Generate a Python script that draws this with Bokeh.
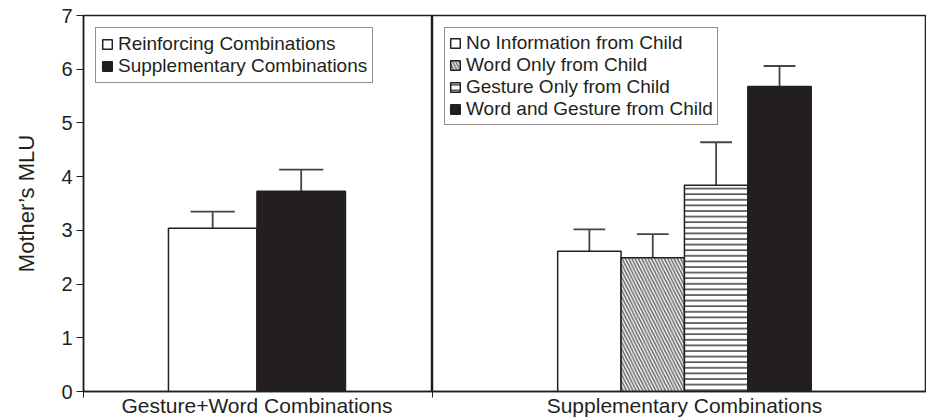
from bokeh.plotting import figure
from bokeh.layouts import row
from bokeh.models import ColumnDataSource, Range1d, FixedTicker, Legend, LegendItem
from bokeh.embed import file_html
from bokeh.resources import INLINE

# ---------------- data ----------------
y_label = "Mother\u2019s MLU"
y_ticks = [0, 1, 2, 3, 4, 5, 6, 7]

left_group = "Gesture+Word Combinations"
left_labels = ["Reinforcing Combinations", "Supplementary Combinations"]
left_means = [3.04, 3.73]
left_errors = [0.31, 0.40]

right_group = "Supplementary Combinations"
right_labels = ["No Information from Child", "Word Only from Child",
                "Gesture Only from Child", "Word and Gesture from Child"]
right_means = [2.61, 2.49, 3.84, 5.68]
right_errors = [0.41, 0.44, 0.80, 0.38]

# ---------------- style ----------------
INK = "#231f20"
FONT = "Liberation Sans"
left_fill = ["white", INK]
left_hatch = [" ", " "]
right_fill = ["white", "white", "white", INK]
right_hatch = [" ", "left_diagonal_line", "horizontal_line", " "]
right_hatch_color = [INK, "#6a6a6a", INK, INK]
right_hatch_weight = [1, 1.6, 1.3, 1]
right_hatch_scale = [6, 6.5, 5.6, 6]

y_range = Range1d(0, 7)


def make_panel(group, labels, means, errors, fills, hatches, hcolors, hweights,
               hscales, center, bar_w, frame_w, with_y, pad, spacing):
    n = len(means)
    xs = [center + (i - (n - 1) / 2) * bar_w for i in range(n)]
    tops = [m + e for m, e in zip(means, errors)]
    src = ColumnDataSource(dict(x=xs, top=means, label=labels, fill=fills,
                                hatch=hatches, hcolor=hcolors, hweight=hweights,
                                hscale=hscales, etop=tops,
                                cl=[x - bar_w / 4 for x in xs],
                                cr=[x + bar_w / 4 for x in xs]))
    p = figure(frame_width=frame_w, frame_height=376, x_range=Range1d(0, 1),
               y_range=y_range, output_backend="svg", toolbar_location=None,
               min_border_top=15, min_border_right=0, min_border_bottom=0,
               min_border_left=83 if with_y else 0,
               y_axis_location="left" if with_y else None)
    p.grid.visible = False
    p.outline_line_color = INK
    p.outline_line_width = 1.5
    p.background_fill_color = "white"
    p.border_fill_color = "white"

    # error bars (upper only)
    p.segment(x0="x", y0="top", x1="x", y1="etop", source=src,
              line_color="#444444", line_width=1.8)
    p.segment(x0="cl", y0="etop", x1="cr", y1="etop", source=src,
              line_color="#444444", line_width=1.8)

    r = p.vbar(x="x", top="top", bottom=0, width=bar_w, source=src,
               fill_color="fill", line_color=INK, line_width=1.5,
               hatch_pattern="hatch", hatch_color="hcolor",
               hatch_weight="hweight", hatch_scale="hscale")

    legend = Legend(items=[LegendItem(label=lab, renderers=[r], index=i)
                           for i, lab in enumerate(labels)],
                    location="top_left")
    legend.margin = 12
    legend.padding = pad
    legend.spacing = spacing
    legend.label_height = 18
    legend.glyph_height = 12
    legend.glyph_width = 12
    legend.label_standoff = 5
    legend.label_text_font = FONT
    legend.label_text_font_size = "19px"
    legend.label_text_color = INK
    legend.border_line_color = INK
    legend.border_line_width = 1
    legend.background_fill_alpha = 1
    p.add_layout(legend, "center")

    xa = p.xaxis[0]
    xa.ticker = FixedTicker(ticks=[center], minor_ticks=[0, 1])
    xa.major_label_overrides = {center: group}
    xa.major_tick_line_color = None
    xa.major_tick_out = 0
    xa.minor_tick_in = 0
    xa.minor_tick_out = 6
    xa.minor_tick_line_color = INK
    xa.axis_line_color = INK
    xa.axis_line_width = 1.5
    xa.major_label_standoff = -4
    xa.major_label_text_font = FONT
    xa.major_label_text_font_size = "21px"
    xa.major_label_text_color = INK

    if with_y:
        ya = p.yaxis[0]
        ya.ticker = FixedTicker(ticks=y_ticks)
        ya.minor_tick_line_color = None
        ya.major_tick_in = 0
        ya.major_tick_out = 7
        ya.major_tick_line_color = INK
        ya.axis_line_color = INK
        ya.axis_line_width = 1.5
        ya.major_label_standoff = 4
        ya.major_label_text_font = FONT
        ya.major_label_text_font_size = "20px"
        ya.major_label_text_color = INK
        ya.axis_label = y_label
        ya.axis_label_text_font = FONT
        ya.axis_label_text_font_size = "22px"
        ya.axis_label_text_font_style = "normal"
        ya.axis_label_text_color = INK
        ya.axis_label_standoff = 19
    return p


p1 = make_panel(left_group, left_labels, left_means, left_errors, left_fill,
                left_hatch, [INK, INK], [1, 1], [6, 6], 0.497, 0.2536, 349,
                True, 5, -2)
p2 = make_panel(right_group, right_labels, right_means, right_errors, right_fill,
                right_hatch, right_hatch_color, right_hatch_weight,
                right_hatch_scale, 0.510, 0.1283, 494, False, 4, -4)

layout = row(p1, p2)
open("out.html", "w").write(file_html(layout, INLINE))
